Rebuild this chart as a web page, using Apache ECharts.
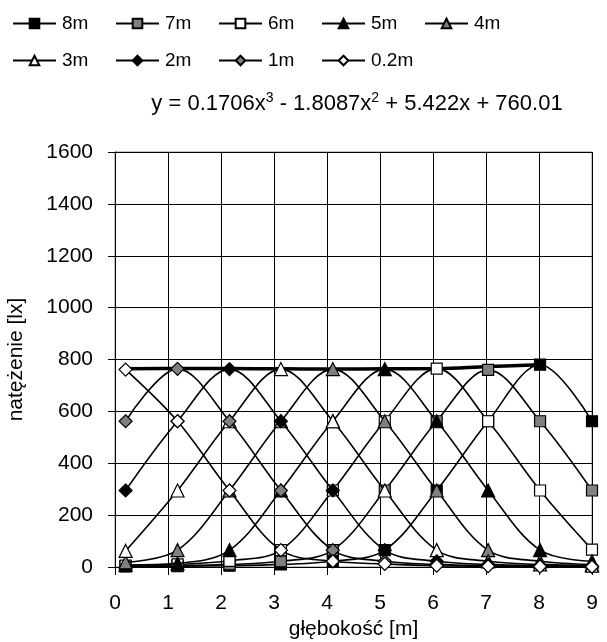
<!DOCTYPE html>
<html><head><meta charset="utf-8">
<script src="https://cdn.jsdelivr.net/npm/echarts@6/dist/echarts.min.js"></script>
<style>html,body{margin:0;padding:0;background:#fff}#c{width:607px;height:642px}</style>
</head><body><div id="c"></div>
<script>
const xs = [0.2, 1.18, 2.16, 3.13, 4.11, 5.09, 6.07, 7.04, 8.02, 9.0];
const names = ['8m','7m','6m','5m','4m','3m','2m','1m','0.2m'];
const s8m  = [2, 3, 5, 10, 22, 65, 295, 562, 780, 562];
const s7m  = [3, 5, 10, 22, 65, 295, 562, 760, 562, 295];
const s6m  = [5, 10, 24, 65, 295, 562, 765, 562, 295, 67];
const s5m  = [8, 14, 65, 295, 562, 763, 562, 295, 65, 22];
const s4m  = [18, 65, 295, 562, 763, 562, 295, 65, 22, 10];
const s3m  = [62, 295, 562, 763, 562, 295, 65, 22, 10, 5];
const s2m  = [295, 562, 763, 562, 295, 65, 22, 10, 5, 3];
const s1m  = [562, 764, 562, 295, 65, 22, 10, 5, 3, 2];
const s02m = [761, 562, 295, 65, 22, 12, 5, 3, 2, 1];
// polynomial trend line of peaks
const trendX = [0.2, 1.18, 2.16, 3.13, 4.11, 5.09, 6.07, 7.04, 8.02];
const trendY = [764, 765, 765, 764, 763, 764, 765, 773, 780];
const yTicks = [0, 200, 400, 600, 800, 1000, 1200, 1400, 1600];
const xTicks = [0, 1, 2, 3, 4, 5, 6, 7, 8, 9];
const equation = 'y = 0.1706x{sup|3} - 1.8087x{sup|2} + 5.422x + 760.01';

const allVals = [s8m, s7m, s6m, s5m, s4m, s3m, s2m, s1m, s02m];
const markers = [
  {symbol:'rect', color:'#000'}, {symbol:'rect', color:'#808080'}, {symbol:'rect', color:'#fff'},
  {symbol:'triangle', color:'#000'}, {symbol:'triangle', color:'#808080'}, {symbol:'triangle', color:'#fff'},
  {symbol:'diamond', color:'#000'}, {symbol:'diamond', color:'#808080'}, {symbol:'diamond', color:'#fff'}
];
const FONT = '"Liberation Sans", Arial, sans-serif';
const series = names.map((n, i) => ({
  name: n, type: 'line', smooth: 0.35,
  data: xs.map((x, k) => [x, allVals[i][k]]),
  symbol: markers[i].symbol,
  symbolSize: markers[i].symbol === 'diamond' ? 13 : (markers[i].symbol === 'triangle' ? 13 : 11),
  lineStyle: {color: '#000', width: 1.6},
  itemStyle: {color: markers[i].color, borderColor: '#000', borderWidth: 1.2},
  z: 3 + i
}));
series.push({
  name: 'trend', type: 'line', smooth: 0.4, symbol: 'none',
  data: trendX.map((x, k) => [x, trendY[k]]),
  lineStyle: {color: '#000', width: 3.5}, z: 2
});
const legends = names.map((n, i) => ({
  data: [n], left: 12 + (i % 5) * 103, top: i < 5 ? 14 : 51,
  itemWidth: 43, itemHeight: 12, itemGap: 0, padding: 0,
  textStyle: {fontFamily: FONT, fontSize: 19, color: '#000', padding: [0,0,0,1]}
}));
const chart = echarts.init(document.getElementById('c'), null, {renderer: 'canvas'});
chart.setOption({
  animation: false,
  title: {
    text: equation, left: 352, textAlign: 'center', top: 86,
    textStyle: {fontFamily: FONT, fontSize: 22, fontWeight: 'normal', color: '#000',
      rich: {sup: {fontFamily: FONT, fontSize: 14, color: '#000', padding: [0,0,12,0]}}}
  },
  legend: legends,
  grid: {left: 115, right: 15, top: 152, bottom: 75, show: true, borderColor: '#888', borderWidth: 1,
    outerBoundsMode: 'none', containLabel: false},
  xAxis: {
    type: 'value', min: xTicks[0], max: xTicks[xTicks.length-1], interval: 1,
    name: 'głębokość [m]', nameLocation: 'middle', nameGap: 49,
    nameTextStyle: {fontFamily: FONT, fontSize: 21, color: '#000'},
    axisLine: {lineStyle: {color: '#000'}},
    axisTick: {show: true, length: 8, lineStyle: {color: '#000'}},
    axisLabel: {fontFamily: FONT, fontSize: 21, color: '#000', margin: 26},
    splitLine: {show: true, lineStyle: {color: '#000', width: 1}}
  },
  yAxis: {
    type: 'value', min: yTicks[0], max: yTicks[yTicks.length-1], interval: 200,
    name: 'natężenie [lx]', nameLocation: 'middle', nameGap: 88,
    nameTextStyle: {fontFamily: FONT, fontSize: 21, color: '#000'},
    axisLine: {show: true, lineStyle: {color: '#000'}},
    axisTick: {show: true, length: 7, lineStyle: {color: '#000'}},
    axisLabel: {fontFamily: FONT, fontSize: 21, color: '#000', margin: 22,
      formatter: v => String(v)},
    splitLine: {show: true, lineStyle: {color: '#000', width: 1}}
  },
  series: series
});
</script></body></html>
